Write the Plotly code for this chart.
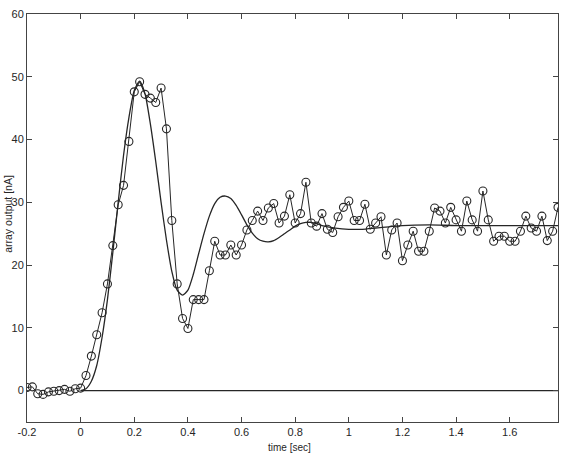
import plotly.graph_objects as go

# measured samples (time in s, array output in nA)
t_data = [round(-0.2 + 0.02 * i, 2) for i in range(100)]
v_data = [0.5, 0.6, -0.5, -0.6, -0.2, -0.1, 0.0, 0.2, -0.1, 0.3,
          0.4, 2.4, 5.5, 8.9, 12.4, 17.0, 23.1, 29.6, 32.7, 39.7,
          47.6, 49.2, 47.2, 46.6, 45.9, 48.2, 41.7, 27.1, 17.0, 11.5,
          9.9, 14.5, 14.5, 14.5, 19.1, 23.8, 21.6, 21.6, 23.2, 21.6,
          23.2, 25.6, 27.1, 28.6, 27.1, 29.1, 29.8, 26.7, 27.8, 31.2,
          26.7, 28.2, 33.2, 26.7, 26.2, 28.2, 25.7, 25.2, 27.7, 29.2,
          30.2, 27.1, 27.1, 29.7, 25.7, 26.7, 27.7, 21.6, 25.6, 26.7,
          20.7, 23.2, 25.4, 22.2, 22.2, 25.4, 29.1, 28.6, 26.7, 29.2,
          27.2, 25.4, 30.2, 27.2, 25.4, 31.8, 27.2, 23.8, 24.6, 24.6,
          23.8, 23.8, 25.4, 27.8, 25.9, 25.4, 27.8, 23.9, 25.4, 29.2]

# smooth model response
t_model = [0.0, 0.02, 0.04, 0.06, 0.08, 0.10, 0.12, 0.14, 0.16, 0.18,
           0.20, 0.22, 0.24, 0.26, 0.28, 0.30, 0.32, 0.34, 0.36, 0.38,
           0.40, 0.42, 0.44, 0.46, 0.48, 0.50, 0.52, 0.54, 0.56, 0.58,
           0.60, 0.62, 0.64, 0.66, 0.68, 0.70, 0.72, 0.74, 0.76, 0.78,
           0.80, 0.82, 0.84, 0.86, 0.88, 0.90, 0.95, 1.00, 1.05, 1.10,
           1.15, 1.20, 1.30, 1.40, 1.50, 1.60, 1.78]
v_model = [0.0, 0.3, 1.5, 4.0, 8.5, 14.5, 22.0, 30.0, 37.5, 43.5,
           47.8, 49.3, 47.3, 42.5, 36.5, 30.0, 24.0, 19.0, 16.0, 15.2,
           16.0, 18.5, 21.8, 25.0, 27.8, 29.8, 30.8, 31.0, 30.6, 29.5,
           28.0, 26.4, 25.1, 24.2, 23.8, 23.7, 23.9, 24.4, 25.0, 25.6,
           26.2, 26.6, 26.8, 26.8, 26.6, 26.3, 25.9, 25.7, 25.7, 25.9,
           26.1, 26.3, 26.4, 26.3, 26.3, 26.3, 26.3]

# zero baseline
t_base = [0.0, 1.78]
v_base = [0.0, 0.0]

x_ticks = [-0.2, 0, 0.2, 0.4, 0.6, 0.8, 1, 1.2, 1.4, 1.6]
x_ticklabels = ["-0.2", "0", "0.2", "0.4", "0.6", "0.8", "1", "1.2", "1.4", "1.6"]
y_ticks = [0, 10, 20, 30, 40, 50, 60]
y_ticklabels = ["0", "10", "20", "30", "40", "50", "60"]

INK = "#262626"

fig = go.Figure()
fig.add_trace(go.Scatter(x=t_base, y=v_base, mode="lines",
                         line=dict(color=INK, width=1.1), showlegend=False))
fig.add_trace(go.Scatter(x=t_model, y=v_model, mode="lines",
                         line=dict(color=INK, width=1.3, shape="spline", smoothing=0.6),
                         showlegend=False))
fig.add_trace(go.Scatter(x=t_data, y=v_data, mode="lines+markers",
                         line=dict(color=INK, width=1),
                         marker=dict(symbol="circle-open", size=8, color=INK,
                                     line=dict(width=1.1, color=INK)),
                         showlegend=False))

axis_common = dict(showline=True, linecolor="#444", linewidth=1, mirror="ticks",
                   ticks="inside", ticklen=5, tickcolor="#444", showgrid=False,
                   zeroline=False, tickfont=dict(family="Liberation Sans", size=11, color=INK))

fig.update_xaxes(range=[-0.2, 1.78], tickvals=x_ticks, ticktext=x_ticklabels, **axis_common)
fig.update_yaxes(range=[-5, 60], tickvals=y_ticks, ticktext=y_ticklabels, **axis_common)

fig.add_annotation(text="time [sec]", xref="paper", yref="paper", x=0.495, y=-0.062,
                   showarrow=False, xanchor="center", yanchor="middle",
                   font=dict(family="Liberation Sans", size=10, color=INK))
fig.add_annotation(text="array output [nA]", xref="paper", yref="paper", x=-0.036, y=0.51,
                   showarrow=False, textangle=-90, xanchor="center", yanchor="middle",
                   font=dict(family="Liberation Sans", size=10.5, color=INK))

fig.update_layout(width=562, height=460, margin=dict(l=27, r=4, t=14, b=38),
                  plot_bgcolor="white", paper_bgcolor="white")

fig.write_html("out.html")
